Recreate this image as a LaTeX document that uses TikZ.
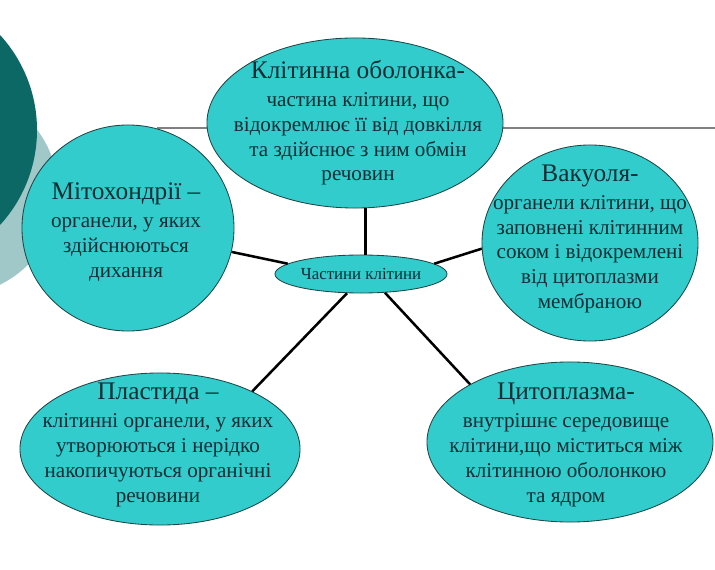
\documentclass[tikz,border=0pt]{standalone}
\usepackage{fontspec}
\setmainfont{Liberation Serif}
\usetikzlibrary{shapes.geometric}
\definecolor{cdark}{RGB}{12,104,100}
\definecolor{clight}{RGB}{160,200,200}
\definecolor{cturq}{RGB}{51,204,204}
\definecolor{cedge}{RGB}{30,70,70}
\definecolor{ctext}{RGB}{10,46,52}

\begin{document}
\begin{tikzpicture}[x=0.025cm,y=-0.025cm,
  part/.style={ellipse,draw=cedge,line width=0.6pt,fill=cturq,inner sep=0pt},
  desc/.style={align=center,text=ctext,inner sep=0pt,font=\fontsize{15}{17.7}\selectfont},
  link/.style={line width=1.8pt}]
  \useasboundingbox (0,0) rectangle (715,570);
  \clip (0,0) rectangle (715,570);
  \fill[clight] (-45,192) circle[radius=103];
  \fill[cdark] (-103.5,130) circle[radius=140.5];
  \draw[gray,line width=0.8pt] (157,128) -- (715,128);
  \node[part,minimum width=7.4cm,minimum height=4.25cm] (membrane) at (355,123) {};
  \node[part,minimum width=5.3cm,minimum height=5.15cm] (mito) at (128,228) {};
  \node[part,minimum width=5.4cm,minimum height=4.9cm] (vacuole) at (590,243) {};
  \node[part,minimum width=7.0cm,minimum height=3.8cm] (plastid) at (160,449) {};
  \node[part,minimum width=7.15cm,minimum height=4.0cm] (cyto) at (570,442) {};
  \node[part,minimum width=4.3cm,minimum height=0.95cm] (cell) at (361,274) {};
  \draw[link] (membrane.-83) -- (membrane.-83 |- cell.north);
  \draw[link] (cell.172) -- (mito.-13);
  \draw[link] (cell.8) -- (vacuole.183);
  \draw[link] (cell.-126) -- (plastid.32);
  \draw[link] (cell.-38) -- (cyto.150);
  \node[desc,font=\fontsize{12}{12}\selectfont] (celltext) at (cell) {Частини клітини};
  \node[desc] (membranetext) at (358,123) {{\fontsize{18}{18}\selectfont Клітинна оболонка-}\\[2pt]
    частина клітини, що\\відокремлює її від довкілля\\та здійснює з ним обмін\\речовин};
  \node[desc] (mitotext) at (126,232) {{\fontsize{18}{18}\selectfont Мітохондрії –}\\[2pt]
    органели, у яких\\здійснюються\\дихання};
  \node[desc] (vacuoletext) at (590,239) {{\fontsize{18}{18}\selectfont Вакуоля-}\\[2pt]
    органели клітини, що\\заповнені клітинним\\соком і відокремлені\\від цитоплазми\\мембраною};
  \node[desc] (plastidtext) at (158,445) {{\fontsize{18}{18}\selectfont Пластида –}\\[2pt]
    клітинні органели, у яких\\утворюються і нерідко\\накопичуються органічні\\речовини};
  \node[desc] (cytotext) at (566,445) {{\fontsize{18}{18}\selectfont Цитоплазма-}\\[2pt]
    внутрішнє середовище\\клітини,що міститься між\\клітинною оболонкою\\та ядром};
\end{tikzpicture}
\end{document}
